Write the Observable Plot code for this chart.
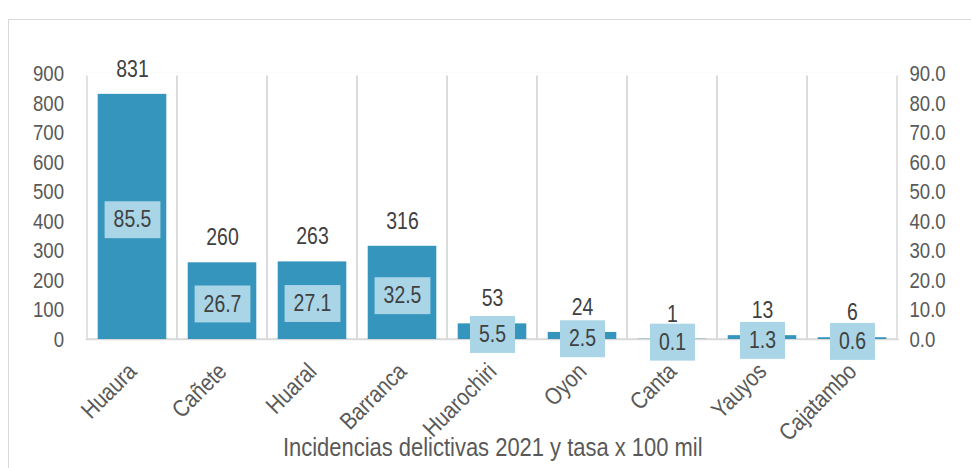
<!DOCTYPE html>
<html>
<head>
<meta charset="utf-8">
<script src="https://cdn.jsdelivr.net/npm/d3@7"></script>
<script src="https://cdn.jsdelivr.net/npm/@observablehq/plot@0.6"></script>
<style>
  html, body { margin: 0; padding: 0; background: #fff; }
  #wrap { position: relative; width: 971px; height: 468px; overflow: hidden; }
  #border { position: absolute; left: 8px; top: 19px; width: 1000px; height: 500px; border: 1.5px solid #d9d9d9; box-sizing: border-box; }
  #chart { position: absolute; left: 0; top: 0; }
</style>
</head>
<body>
<div id="wrap"><div id="border"></div><div id="chart"></div></div>
<script>
const categories = ["Huaura", "Cañete", "Huaral", "Barranca", "Huarochiri", "Oyon", "Canta", "Yauyos", "Cajatambo"];
const incidencias = [831, 260, 263, 316, 53, 24, 1, 13, 6];
const tasa = [85.5, 26.7, 27.1, 32.5, 5.5, 2.5, 0.1, 1.3, 0.6];
const leftTicks = [0, 100, 200, 300, 400, 500, 600, 700, 800, 900];
const rightTicks = [0, 10, 20, 30, 40, 50, 60, 70, 80, 90];
const xTitle = "Incidencias delictivas 2021 y tasa x 100 mil";

const FONT = "'Liberation Sans', Arial, sans-serif";
const NARROW = 0.845; // emulate Arial Narrow
const data = categories.map((c, i) => ({c, n: incidencias[i], r: tasa[i]}));

const chart = Plot.plot({
  width: 971,
  height: 468,
  marginLeft: 85.5,
  marginRight: 72,
  marginTop: 73.5,
  marginBottom: 129,
  style: {fontFamily: FONT, fontSize: "22px", color: "#595959", background: "transparent", overflow: "visible"},
  x: {domain: categories, padding: 0, label: null, axis: null},
  y: {domain: [0, 900], label: null, axis: null},
  marks: [
    Plot.barY(categories, {x: d => d, y1: 0, y2: 900, fill: "none", stroke: "#d9d9d9", strokeWidth: 1.5}),
    Plot.ruleY([900], {stroke: "white", strokeWidth: 3}),
    Plot.ruleY([0], {stroke: "#d9d9d9", strokeWidth: 1.5}),
    Plot.barY(data, {x: "c", y: "n", fill: "#3595bc", insetLeft: 10.7, insetRight: 10.7}),
    Plot.axisY(leftTicks, {anchor: "left", tickSize: 0, tickPadding: 22, tickFormat: d => String(d), label: null, fill: "#595959", fontSize: 22}),
    Plot.axisY(rightTicks, {y: d => d * 10, anchor: "right", tickSize: 0, tickPadding: 10, tickFormat: d => d.toFixed(1), label: null, fill: "#595959", fontSize: 22}),
    Plot.axisX({tickRotate: -45, tickSize: 0, tickPadding: 28, label: null, fill: "#595959", fontSize: 24}),
    Plot.text([xTitle], {frameAnchor: "bottom", dy: 116, fill: "#595959", fontSize: 26}),
    Plot.text(data, {x: "c", y: "n", text: d => String(d.n), dy: -25, fill: "#404040", fontSize: 23}),
    Plot.text(data, {x: "c", y: d => d.n / 2, text: d => d.r.toFixed(1), dy: 3, fill: "#404040", fontSize: 23, className: "ratelbl"})
  ]
});
document.getElementById("chart").appendChild(chart);

// condense all text horizontally around its anchor
chart.querySelectorAll("text").forEach(t => {
  const tr = t.getAttribute("transform") || "";
  t.setAttribute("transform", `${tr} scale(${NARROW},1)`);
});

// light-blue boxes behind the rate labels
chart.querySelectorAll("g.ratelbl text").forEach(t => {
  const b = t.getBBox();
  const rect = document.createElementNS("http://www.w3.org/2000/svg", "rect");
  const padX = 9 / NARROW, padY = 5.5;
  rect.setAttribute("x", b.x - padX);
  rect.setAttribute("y", b.y - padY);
  rect.setAttribute("width", b.width + 2 * padX);
  rect.setAttribute("height", b.height + 2 * padY);
  rect.setAttribute("fill", "#a9d5e6");
  rect.setAttribute("transform", t.getAttribute("transform"));
  t.parentNode.insertBefore(rect, t);
});
</script>
</body>
</html>
